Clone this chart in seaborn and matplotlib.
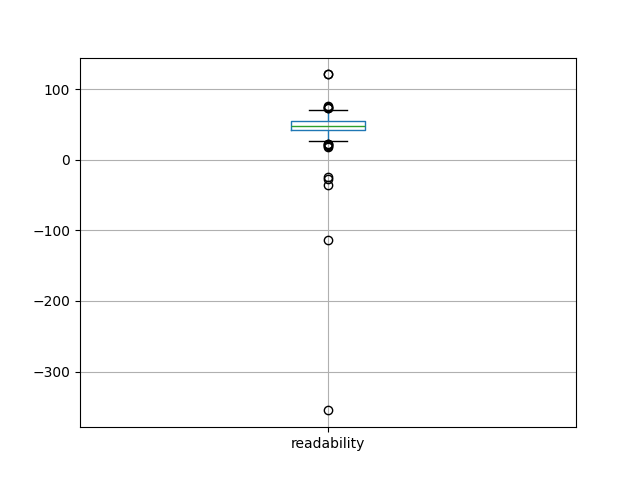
import matplotlib
matplotlib.use("Agg")
import matplotlib.pyplot as plt
import seaborn as sns
import pandas as pd

column_name = "readability"

low_outliers = [-355, -113, -35, -27, -24, 17.5, 19, 21, 22.5, 23]
lower_values = [27, 31, 35, 38, 40]
middle_values = [41.5, 41.9, 42.5, 43, 43.5, 44, 44.5, 45, 45.5, 46, 46.5, 47, 47,
                 47.5, 47.5, 48, 48, 48, 48.5, 49, 49.5, 50, 50.5, 51, 51.5, 52, 52,
                 52.5, 53, 53, 53.5, 54, 54, 54.3]
upper_values = [55, 56, 57.5, 59, 60.5, 62, 64, 66, 68, 70]
high_outliers = [73, 74, 75, 76, 121, 121]

values = low_outliers + lower_values + middle_values + upper_values + high_outliers
df = pd.DataFrame({column_name: values})

fig, ax = plt.subplots(figsize=(6.4, 4.8), dpi=100)
sns.boxplot(
    data=df, ax=ax, width=0.15, fill=False, color="#1f77b4", linewidth=1.0,
    boxprops=dict(color="#1f77b4", linewidth=1.0),
    whiskerprops=dict(color="#1f77b4", linewidth=1.0),
    capprops=dict(color="black", linewidth=1.0),
    medianprops=dict(color="#2ca02c", linewidth=1.0),
    flierprops=dict(marker="o", markerfacecolor="none", markeredgecolor="black",
                    markersize=6, markeredgewidth=1.0),
)
ax.set_xlim(-0.5, 0.5)
ax.grid(True)
ax.set_axisbelow(True)
ax.set_xlabel("")
ax.set_ylabel("")
fig.savefig("out.png", dpi=100)
